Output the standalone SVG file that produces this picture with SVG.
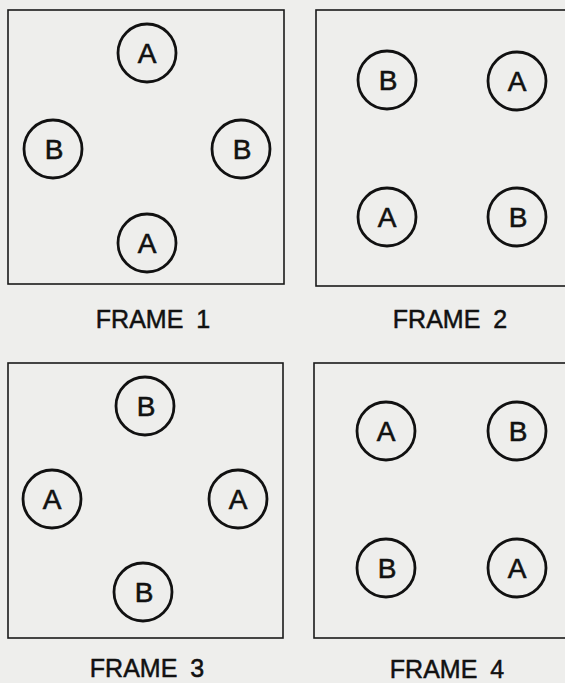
<svg xmlns="http://www.w3.org/2000/svg" width="565" height="683" viewBox="0 0 565 683">
<style>
.bg{fill:#eeeeec}
.frame{fill:none;stroke:#1a1a1a;stroke-width:1.6}
.c{fill:none;stroke:#111;stroke-width:2.8}
.l{font-family:"Liberation Sans",Arial,sans-serif;font-size:28px;fill:#111;stroke:#111;stroke-width:0.6;text-anchor:middle}
.t{font-family:"Liberation Sans",Arial,sans-serif;font-size:25px;fill:#111;stroke:#111;stroke-width:0.5;text-anchor:middle;word-spacing:6px}
</style>
<rect class="bg" x="0" y="0" width="565" height="683"/>
<g id="frame1">
<rect class="frame" x="8" y="10" width="276" height="274"/>
<g id="f1-top-A"><circle class="c" cx="147" cy="53" r="29"/><text class="l" x="147" y="63">A</text></g>
<g id="f1-left-B"><circle class="c" cx="53" cy="149" r="29"/><text class="l" x="54" y="159">B</text></g>
<g id="f1-right-B"><circle class="c" cx="241" cy="149" r="29"/><text class="l" x="242" y="159">B</text></g>
<g id="f1-bottom-A"><circle class="c" cx="147" cy="243" r="29"/><text class="l" x="147" y="253">A</text></g>
<text class="t" x="153" y="328">FRAME 1</text>
</g>
<g id="frame2">
<rect class="frame" x="316" y="10" width="260" height="276"/>
<g id="f2-tl-B"><circle class="c" cx="387" cy="80" r="29"/><text class="l" x="388" y="90">B</text></g>
<g id="f2-tr-A"><circle class="c" cx="517" cy="81" r="29"/><text class="l" x="517" y="91">A</text></g>
<g id="f2-bl-A"><circle class="c" cx="387" cy="217" r="29"/><text class="l" x="387" y="227">A</text></g>
<g id="f2-br-B"><circle class="c" cx="517" cy="217" r="29"/><text class="l" x="518" y="227">B</text></g>
<text class="t" x="450" y="328">FRAME 2</text>
</g>
<g id="frame3">
<rect class="frame" x="8" y="363" width="275" height="275"/>
<g id="f3-top-B"><circle class="c" cx="145" cy="406" r="29"/><text class="l" x="146" y="416">B</text></g>
<g id="f3-left-A"><circle class="c" cx="52" cy="499" r="29"/><text class="l" x="52" y="509">A</text></g>
<g id="f3-right-A"><circle class="c" cx="238" cy="499" r="29"/><text class="l" x="238" y="509">A</text></g>
<g id="f3-bottom-B"><circle class="c" cx="143" cy="592" r="29"/><text class="l" x="144" y="602">B</text></g>
<text class="t" x="147" y="677">FRAME 3</text>
</g>
<g id="frame4">
<rect class="frame" x="314" y="363" width="262" height="275"/>
<g id="f4-tl-A"><circle class="c" cx="386" cy="431" r="29"/><text class="l" x="386" y="441">A</text></g>
<g id="f4-tr-B"><circle class="c" cx="517" cy="431" r="29"/><text class="l" x="518" y="441">B</text></g>
<g id="f4-bl-B"><circle class="c" cx="386" cy="568" r="29"/><text class="l" x="387" y="578">B</text></g>
<g id="f4-br-A"><circle class="c" cx="517" cy="568" r="29"/><text class="l" x="517" y="578">A</text></g>
<text class="t" x="447" y="678">FRAME 4</text>
</g>
</svg>
